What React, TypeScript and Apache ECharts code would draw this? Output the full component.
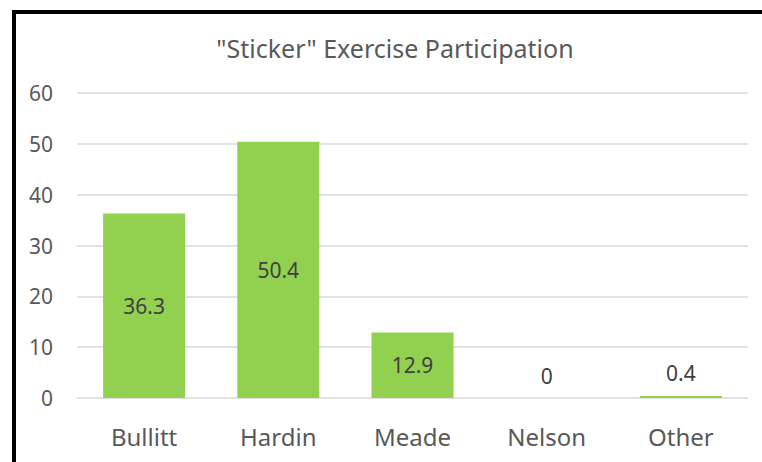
import React, { useEffect, useRef } from "react";
import * as echarts from "echarts";

const titleText = '"Sticker" Exercise Participation';
const categories = ["Bullitt", "Hardin", "Meade", "Nelson", "Other"];
const values = [36.3, 50.4, 12.9, 0, 0.4];
const outsideLabelCats = ["Nelson", "Other"];
const yMin = 0;
const yMax = 60;
const yInterval = 10;

const FONT = "Noto Sans";

export default function App() {
  const ref = useRef<HTMLDivElement>(null);
  useEffect(() => {
    if (!ref.current) return;
    const chart = echarts.init(ref.current, undefined, { renderer: "svg" });
    chart.setOption({
      animation: false,
      backgroundColor: "#ffffff",
      title: {
        text: titleText,
        left: 390,
        top: 30,
        textAlign: "center",
        textStyle: { fontFamily: FONT, fontSize: 25, fontWeight: "normal", color: "#595959" },
      },
      grid: { left: 77, right: 14, top: 93, bottom: 64, containLabel: false },
      xAxis: {
        type: "category",
        data: categories,
        axisLine: { show: false },
        axisTick: { show: false },
        axisLabel: { fontFamily: FONT, fontSize: 24, color: "#595959", margin: 26 },
      },
      yAxis: {
        type: "value",
        min: yMin,
        max: yMax,
        interval: yInterval,
        axisLine: { show: false },
        axisTick: { show: false },
        splitLine: { lineStyle: { color: "#D9D9D9", width: 1.5 } },
        axisLabel: { fontFamily: FONT, fontSize: 21, color: "#595959", margin: 24 },
      },
      series: [
        {
          type: "bar",
          barWidth: 82,
          data: values.map((v, i) => {
            const outside = outsideLabelCats.includes(categories[i]);
            return {
              value: v,
              label: outside ? { position: "top", distance: 12 } : { position: "inside" },
            };
          }),
          itemStyle: { color: "#92D050" },
          label: {
            show: true,
            fontFamily: FONT,
            fontSize: 21,
            color: "#404040",
          },
        },
      ],
      graphic: [
        { type: "rect", shape: { x: 12, y: 10, width: 4, height: 460 }, style: { fill: "#000" } },
        { type: "rect", shape: { x: 12, y: 10, width: 760, height: 4 }, style: { fill: "#000" } },
      ],
    });
    return () => chart.dispose();
  }, []);
  return (
    <div
      ref={ref}
      style={{ position: "fixed", left: 0, top: 0, width: 762, height: 462 }}
    />
  );
}
